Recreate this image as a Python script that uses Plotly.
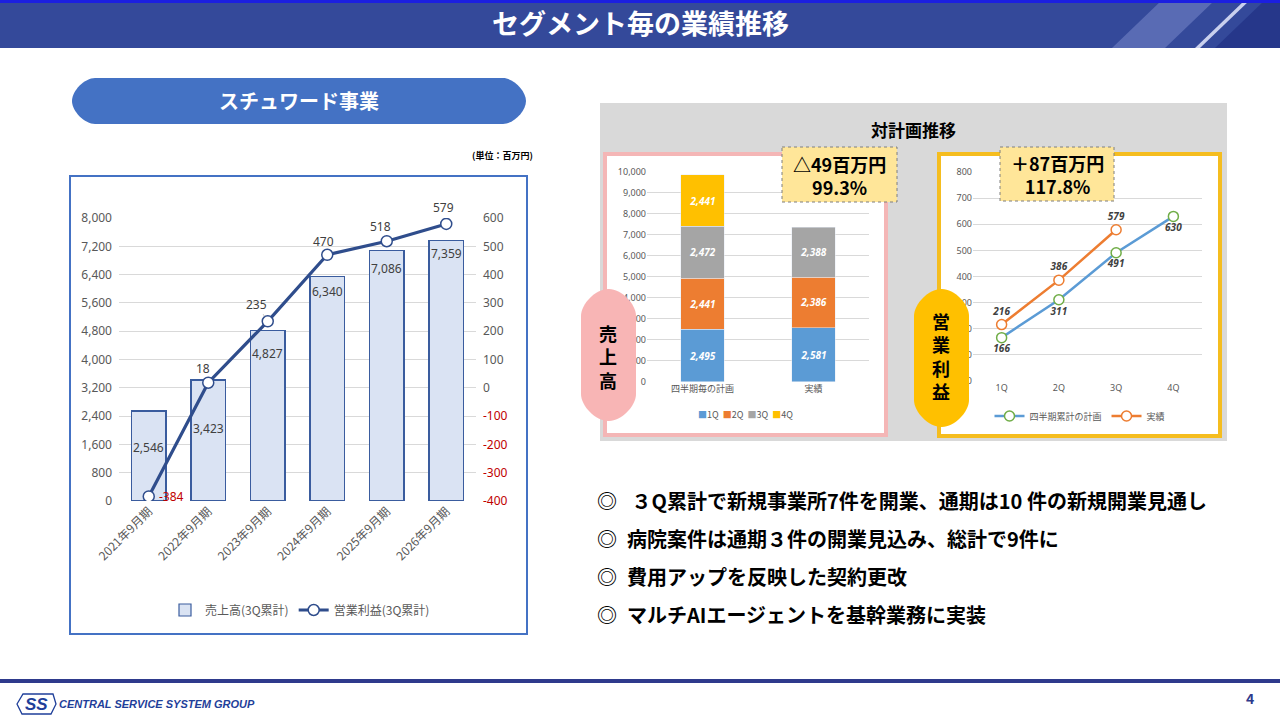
import plotly.graph_objects as go

W, H = 1280, 720
JP = "Noto Sans CJK JP"

# スチュワード事業 (3Q累計)
years = ["2021年9月期", "2022年9月期", "2023年9月期", "2024年9月期", "2025年9月期", "2026年9月期"]
sales = [2546, 3423, 4827, 6340, 7086, 7359]
profit = [-384, 18, 235, 470, 518, 579]

# 対計画推移: 売上高 (四半期毎)
plan_cats = ["四半期毎の計画", "実績"]
q_names = ["1Q", "2Q", "3Q", "4Q"]
q_plan = [2495, 2441, 2472, 2441]
q_actual = [2581, 2386, 2388, None]
q_colors = ["#5b9bd5", "#ed7d31", "#a5a5a5", "#ffc000"]

# 対計画推移: 営業利益 (累計)
quarters = ["1Q", "2Q", "3Q", "4Q"]
op_plan = [166, 311, 491, 630]
op_actual = [216, 386, 579]

bullets = [
    "◎\u2002 ３Q累計で新規事業所7件を開業、通期は10 件の新規開業見通し",
    "◎\u2002病院案件は通期３件の開業見込み、総計で9件に",
    "◎\u2002費用アップを反映した契約更改",
    "◎\u2002マルチAIエージェントを基幹業務に実装",
]


def px(x):
    return x / W


def py(y):
    return 1 - y / H


def rect(x0, y0, x1, y1, **kw):
    return dict(type="rect", xref="paper", yref="paper",
                x0=px(x0), x1=px(x1), y0=py(y0), y1=py(y1), **kw)


def poly(pts, **kw):
    d = "M " + " L ".join(f"{px(x)} {py(y)}" for x, y in pts) + " Z"
    return dict(type="path", xref="paper", yref="paper", path=d, **kw)


def pill(x0, y0, x1, y1, r, **kw):
    k = 0.45 * r
    p = lambda x, y: f"{px(x)} {py(y)}"
    d = (f"M {p(x0 + r, y0)} L {p(x1 - r, y0)} "
         f"C {p(x1 - r + k, y0)} {p(x1, y0 + r - k)} {p(x1, y0 + r)} "
         f"L {p(x1, y1 - r)} "
         f"C {p(x1, y1 - r + k)} {p(x1 - r + k, y1)} {p(x1 - r, y1)} "
         f"L {p(x0 + r, y1)} "
         f"C {p(x0 + r - k, y1)} {p(x0, y1 - r + k)} {p(x0, y1 - r)} "
         f"L {p(x0, y0 + r)} "
         f"C {p(x0, y0 + r - k)} {p(x0 + r - k, y0)} {p(x0 + r, y0)} Z")
    return dict(type="path", xref="paper", yref="paper", path=d, **kw)


def note(x, y, text, size, color="#000000", anchor="center", **kw):
    return dict(xref="paper", yref="paper", x=px(x), y=py(y), text=text,
                showarrow=False, xanchor=anchor, yanchor="middle",
                font=dict(family=JP, size=size, color=color), **kw)


fig = go.Figure()

# left chart
fig.add_trace(go.Bar(
    x=years, y=sales, name="売上高(3Q累計)", width=0.58,
    marker=dict(color="#dae3f3", line=dict(color="#3a5c9e", width=1.2)),
    xaxis="x", yaxis="y", legend="legend",
))
fig.add_trace(go.Scatter(
    x=years, y=profit, name="営業利益(3Q累計)", mode="lines+markers",
    line=dict(color="#2f4d8c", width=3.2),
    marker=dict(size=11, color="white", line=dict(color="#2f4d8c", width=1.5)),
    xaxis="x", yaxis="y2", legend="legend",
))

# middle stacked bars
for i, q in enumerate(q_names):
    vals = [q_plan[i], q_actual[i]]
    fig.add_trace(go.Bar(
        x=plan_cats, y=vals, name=q, width=0.39,
        marker=dict(color=q_colors[i]),
        text=[f"{v:,}" if v else "" for v in vals], textposition="inside",
        insidetextanchor="middle",
        textfont=dict(family="Noto Sans", size=10, color="white",
                      weight="bold", style="italic"),
        xaxis="x2", yaxis="y3", showlegend=False,
    ))

# right lines
fig.add_trace(go.Scatter(
    x=quarters, y=op_plan, name="四半期累計の計画", mode="lines+markers+text",
    line=dict(color="#5b9bd5", width=2.5),
    marker=dict(size=10, color="white", line=dict(color="#70ad47", width=1.5)),
    text=[f"{v:,}" for v in op_plan], textposition="bottom center",
    textfont=dict(family="Noto Sans", size=10, color="#404040",
                  weight="bold", style="italic"),
    xaxis="x3", yaxis="y4", legend="legend3",
))
fig.add_trace(go.Scatter(
    x=quarters[:len(op_actual)], y=op_actual, name="実績", mode="lines+markers+text",
    line=dict(color="#ed7d31", width=2.5),
    marker=dict(size=10, color="white", line=dict(color="#ed7d31", width=1.5)),
    text=[f"{v:,}" for v in op_actual], textposition="top center",
    textfont=dict(family="Noto Sans", size=10, color="#404040",
                  weight="bold", style="italic"),
    xaxis="x3", yaxis="y4", legend="legend3",
))

tick_gray = "#595959"
grid = "#d9d9d9"

ann = []
# bar value labels (left)
bar_shift = [-37, -49, -23, -15, -18, -13]
for yr, v, s in zip(years, sales, bar_shift):
    ann.append(dict(x=yr, y=v, xref="x", yref="y", text=f"{v:,}", showarrow=False,
                    yshift=s, font=dict(family="Noto Sans", size=12, color="#404040")))
# line value labels (left)
line_shift = [(23, 0), (-5, 14), None, (-4, 13), (-6, 15), (-3, 16)]
for yr, v, s in zip(years, profit, line_shift):
    col = "#c00000" if v < 0 else "#404040"
    if s is None:
        ann.append(dict(x=yr, y=v, xref="x", yref="y2", text=f"{v:,}", showarrow=True,
                        arrowhead=0, arrowwidth=0.8, arrowcolor="#a6a6a6", ax=-11, ay=-17,
                        standoff=6, font=dict(family="Noto Sans", size=12, color=col)))
    else:
        ann.append(dict(x=yr, y=v, xref="x", yref="y2", text=f"{v:,}", showarrow=False,
                        xshift=s[0], yshift=s[1],
                        font=dict(family="Noto Sans", size=12, color=col)))

# slide texts
ann += [
    note(640, 22, "<b>セグメント毎の業績推移</b>", 27, "white"),
    note(299, 101, "<b>スチュワード事業</b>", 20, "white"),
    note(502, 155, "<b>(単位：百万円)</b>", 9),
    note(913, 129, "<b>対計画推移</b>", 17),
    note(839, 175, "<b>△49百万円<br>99.3%</b>", 18),
    note(1057, 174, "<b>＋87百万円<br>117.8%</b>", 18),
    note(608, 356, "<b>売<br>上<br>高</b>", 18),
    note(941, 356, "<b>営<br>業<br>利<br>益</b>", 18),
    note(745, 415, "  ".join(f"<span style='color:{c}'>■</span>{q}"
                             for q, c in zip(q_names, q_colors)), 9, tick_gray),
    dict(xref="paper", yref="paper", x=px(57), y=py(704), text="<b><i>CENTRAL SERVICE SYSTEM GROUP</i></b>",
         showarrow=False, xanchor="left", yanchor="middle",
         font=dict(family="Liberation Sans", size=11, color="#1f3f9a")),
    dict(xref="paper", yref="paper", x=px(36), y=py(704), text="<b><i>SS</i></b>",
         showarrow=False, xanchor="center", yanchor="middle",
         font=dict(family="Liberation Sans", size=17, color="#1f3f9a")),
    note(1250, 698, "<b>4</b>", 14, "#2e3a8c"),
]
for i, b in enumerate(bullets):
    ann.append(note(595, 500 + 38 * i, f"<b>{b}</b>", 20, anchor="left"))

shapes = [
    # header
    rect(0, 0, 1280, 48, fillcolor="#34499a", line_width=0, layer="below"),
    poly([(1112, 48), (1162, 0), (1215, 0), (1165, 48)], fillcolor="#6a7bbf",
         line_width=0, layer="below", opacity=0.7),
    poly([(1195, 48), (1245, 0), (1250, 0), (1200, 48)], fillcolor="#c9d0ee",
         line_width=0, layer="below"),
    poly([(1215, 48), (1265, 0), (1280, 0), (1280, 48)], fillcolor="#26378a",
         line_width=0, layer="below"),
    rect(0, 0, 1280, 3, fillcolor="#1b1fe0", line_width=0, layer="below"),
    # footer
    rect(0, 679, 1280, 683, fillcolor="#2e3a8c", line_width=0, layer="below"),
    poly([(17, 704), (23, 694), (53, 694), (56, 704), (51, 714), (22, 714)],
         fillcolor="rgba(0,0,0,0)", line=dict(color="#1f3f9a", width=1.3), layer="below"),
    # left
    pill(72, 78, 526, 124, 23, fillcolor="#4472c4", line_width=0, layer="below"),
    rect(70, 176, 527, 634, fillcolor="white", line=dict(color="#4472c4", width=2),
         layer="below"),
    # right panel
    rect(600, 103, 1227, 441, fillcolor="#d9d9d9", line_width=0, layer="below"),
    rect(605, 154, 886, 435, fillcolor="white", line=dict(color="#f4b6b6", width=4),
         layer="below"),
    rect(939, 154, 1220, 436, fillcolor="white", line=dict(color="#f5bd1f", width=4),
         layer="below"),
    rect(782, 147, 897, 202, fillcolor="#ffe699", line=dict(color="#7f7f7f", width=1, dash="dot"),
         layer="above"),
    rect(1000, 147, 1114, 201, fillcolor="#ffe699", line=dict(color="#7f7f7f", width=1, dash="dot"),
         layer="above"),
    pill(581, 289, 636, 421, 27, fillcolor="#f8b5b5", line_width=0, layer="above"),
    pill(914, 289, 969, 427, 27, fillcolor="#ffc000", line_width=0, layer="above"),
]

neg_red = "#c00000"
y2_vals = list(range(-400, 700, 100))
y2_text = [f"<span style='color:{neg_red}'>{v}</span>" if v < 0 else str(v) for v in y2_vals]

fig.update_layout(
    width=W, height=H, autosize=False,
    margin=dict(l=0, r=0, t=0, b=0, pad=0, autoexpand=False),
    paper_bgcolor="white", plot_bgcolor="rgba(0,0,0,0)",
    font=dict(family=JP, color=tick_gray),
    barmode="stack",
    shapes=shapes, annotations=ann,
    xaxis=dict(domain=[px(119), px(476)], anchor="y", tickangle=-45,
               tickfont=dict(size=12, color=tick_gray), showgrid=False, showline=False,
               ticks=""),
    yaxis=dict(domain=[py(501), py(218)], range=[0, 8000], tickvals=list(range(0, 8001, 800)),
               tickformat=",", gridcolor=grid, zeroline=False, showline=False,
               ticklabelstandoff=6,
               tickfont=dict(family="Noto Sans", size=12, color=tick_gray)),
    yaxis2=dict(overlaying="y", side="right", anchor="x", range=[-400, 600],
                tickvals=y2_vals, ticktext=y2_text, showgrid=False, zeroline=False,
                ticklabelstandoff=6,
                tickfont=dict(family="Noto Sans", size=12, color=tick_gray)),
    xaxis2=dict(domain=[px(647), px(869)], anchor="y3", showgrid=False, ticks="",
                tickfont=dict(size=9, color=tick_gray)),
    yaxis3=dict(domain=[py(381.7), py(171.7)], anchor="x2", range=[0, 10000],
                tickvals=list(range(0, 10001, 1000)), tickformat=",", gridcolor=grid,
                zeroline=False, tickfont=dict(family="Noto Sans", size=9, color=tick_gray)),
    xaxis3=dict(domain=[px(973), px(1202)], anchor="y4", showgrid=False, ticks="",
                categoryorder="array", categoryarray=quarters, range=[-0.5, 3.5],
                tickfont=dict(family="Noto Sans", size=9, color=tick_gray)),
    yaxis4=dict(domain=[py(381), py(172)], anchor="x3", range=[0, 800],
                tickvals=list(range(0, 801, 100)), gridcolor=grid, zeroline=False,
                tickfont=dict(family="Noto Sans", size=9, color=tick_gray)),
    legend=dict(orientation="h", x=px(300), xanchor="center", y=py(610), yanchor="middle",
                traceorder="normal",
                font=dict(size=12, color=tick_gray), bgcolor="rgba(0,0,0,0)"),
    legend3=dict(orientation="h", x=px(1080), xanchor="center", y=py(416), yanchor="middle",
                 traceorder="normal",
                 font=dict(size=9, color=tick_gray), bgcolor="rgba(0,0,0,0)"),
)

fig.write_html("out.html", config={"displayModeBar": False},
               post_script="document.body.style.margin='0px';")
